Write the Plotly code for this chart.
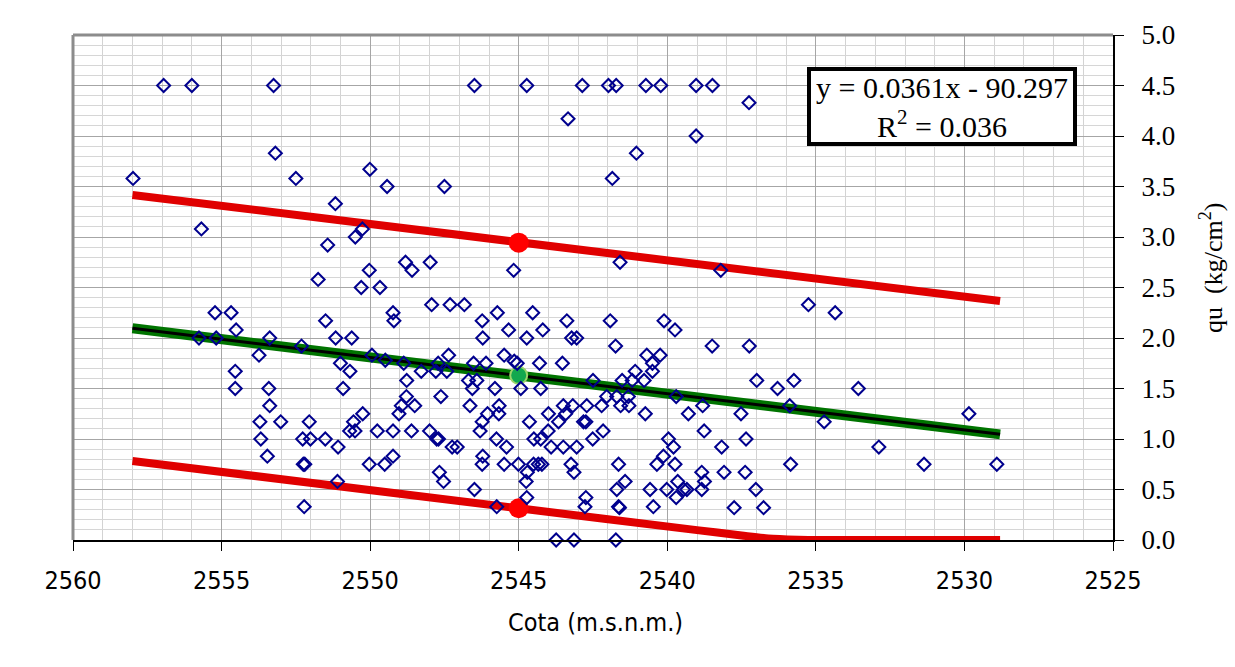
import plotly.graph_objects as go

# ---- data ----
cota = [
    2556.95, 2556.0, 2553.25, 2553.19, 2557.98, 2552.5, 2550.01, 2549.43, 2551.17, 2555.68,
    2550.26, 2550.5, 2551.43, 2548.81, 2548.59, 2550.03, 2551.75, 2550.3, 2549.67,
    2546.49, 2544.73, 2542.86, 2541.98, 2541.72, 2540.72, 2540.22, 2539.03, 2538.48, 2537.25,
    2543.34, 2539.03, 2541.04, 2541.85, 2547.5, 2547.98, 2545.17, 2541.59, 2538.2, 2547.93,
    2547.31, 2546.83,
    2535.25, 2534.35, 2536.29, 2535.74, 2533.57, 2535.88, 2534.72, 2529.85, 2532.88, 2535.85,
    2531.36, 2528.91,
    2555.22, 2554.68, 2554.51, 2555.76, 2555.18, 2553.38, 2553.74, 2552.31, 2551.5, 2551.16,
    2550.62, 2549.23, 2549.2, 2549.94, 2549.49, 2548.87, 2548.28, 2551.0, 2550.68, 2554.54,
    2554.54, 2553.41, 2553.38, 2550.91, 2553.71, 2553.01, 2553.68, 2553.46, 2552.05, 2552.27,
    2552.01, 2551.51, 2551.08, 2552.25, 2552.2, 2551.1, 2552.22, 2550.56, 2550.69, 2550.51,
    2550.25, 2549.76, 2549.23, 2550.03, 2549.51, 2549.23, 2549.03, 2548.95, 2548.78, 2548.77,
    2548.5, 2548.61,
    2545.72, 2544.53, 2546.23, 2545.34, 2546.21, 2544.73, 2544.19, 2543.38, 2541.92, 2543.22,
    2543.05, 2541.74, 2540.11, 2539.74, 2538.49, 2537.24, 2536.99, 2547.36, 2547.71, 2547.79,
    2547.42, 2546.52, 2546.1, 2545.49, 2545.15, 2545.05, 2544.3, 2543.53, 2540.69, 2540.24,
    2540.5, 2541.08, 2540.5, 2541.18, 2540.78, 2541.52, 2542.5, 2546.69, 2546.41, 2546.56,
    2545.8, 2544.93, 2544.26, 2547.62, 2546.64, 2545.66, 2545.67, 2546.05, 2546.23, 2546.3,
    2544.64, 2544.0, 2543.5, 2543.18, 2543.42, 2543.66, 2542.82, 2542.74, 2542.71, 2542.21,
    2542.04, 2541.7, 2541.57, 2541.31, 2541.29, 2540.74, 2539.7, 2539.29, 2538.81, 2537.52,
    2538.76, 2537.35, 2538.17, 2548.0, 2547.76, 2547.7, 2547.24, 2547.07, 2545.75, 2545.41,
    2544.49, 2544.26, 2544.01, 2543.91, 2543.5, 2543.05, 2542.51, 2542.16, 2546.21, 2546.23,
    2545.49, 2545.01, 2544.5, 2544.34, 2544.22, 2544.71, 2544.75, 2544.73, 2543.24, 2543.14,
    2541.64, 2541.42, 2541.7, 2542.74, 2542.77, 2541.64, 2541.61, 2540.47, 2540.58, 2540.02,
    2540.35, 2540.13, 2539.96, 2539.79, 2539.74, 2539.65, 2539.7, 2539.45, 2539.34, 2538.84,
    2538.75, 2538.84, 2538.09, 2537.38, 2537.02, 2537.75, 2536.76, 2547.67, 2547.53, 2546.49,
    2545.74, 2543.74, 2543.14, 2541.73,
]
qu = [
    4.5, 4.5, 4.5, 3.83, 3.58, 3.58, 3.67, 3.5, 3.33, 3.08,
    3.08, 3.0, 2.92, 2.75, 2.67, 2.67, 2.58, 2.5, 2.5,
    4.5, 4.5, 4.5, 4.5, 4.5, 4.5, 4.5, 4.5, 4.5, 4.33,
    4.17, 4.0, 3.83, 3.58, 3.5, 2.75, 2.67, 2.75, 2.67, 2.33,
    2.33, 2.33,
    2.33, 2.25, 1.5, 1.58, 1.5, 1.33, 1.17, 1.25, 0.92, 0.75,
    0.75, 0.75,
    2.25, 2.25, 2.08, 2.0, 2.0, 2.0, 1.83, 1.92, 2.17, 2.0,
    2.0, 2.25, 2.17, 1.83, 1.78, 1.75, 1.67, 1.75, 1.67, 1.67,
    1.5, 1.5, 1.33, 1.5, 1.17, 1.17, 1.0, 0.83, 1.17, 1.0,
    1.0, 1.0, 0.92, 0.75, 0.75, 0.58, 0.33, 1.17, 1.08, 1.08,
    1.25, 1.08, 1.08, 0.75, 0.75, 0.83, 1.25, 1.33, 1.42, 1.58,
    1.33, 1.08,
    2.25, 2.25, 2.17, 2.08, 2.0, 2.0, 2.08, 2.17, 2.17, 2.0,
    2.0, 1.92, 2.17, 2.08, 1.92, 1.92, 1.58, 1.83, 1.75, 1.67,
    1.67, 1.75, 1.75, 1.83, 1.77, 1.75, 1.75, 1.75, 1.83, 1.83,
    1.75, 1.67, 1.67, 1.58, 1.58, 1.58, 1.58, 1.58, 1.58, 1.5,
    1.5, 1.5, 1.5, 1.42, 1.33, 1.33, 1.25, 1.25, 1.17, 1.08,
    1.17, 1.25, 1.33, 1.33, 1.25, 1.17, 1.17, 1.17, 1.33, 1.33,
    1.42, 1.42, 1.33, 1.42, 1.33, 1.25, 1.42, 1.25, 1.33, 1.25,
    1.08, 1.0, 0.92, 1.08, 1.0, 1.0, 0.92, 0.92, 1.0, 0.92,
    1.0, 1.0, 1.08, 0.92, 0.92, 0.92, 1.0, 1.08, 0.83, 0.75,
    0.75, 0.75, 0.75, 0.75, 0.75, 0.67, 0.58, 0.42, 0.75, 0.67,
    0.75, 0.58, 0.5, 0.42, 0.33, 0.33, 0.32, 0.33, 0.5, 0.5,
    0.75, 0.83, 1.0, 0.92, 0.75, 0.58, 0.42, 0.5, 0.5, 0.67,
    0.58, 0.5, 0.67, 0.67, 0.5, 0.32, 0.32, 0.67, 0.58, 0.5,
    0.33, 0.0, 0.0, 0.0,
]

# trend line and bounds
trend_x = [2558.0, 2528.8]
trend_y = [2.096, 1.046]
upper_x = [2558.0, 2528.8]
upper_y = [3.416, 2.366]
lower_x = [2558.0, 2545.0, 2539.0, 2537.5, 2536.6, 2535.6, 2535.0, 2528.8]
lower_y = [0.782, 0.314, 0.098, 0.045, 0.015, 0.003, 0.0, 0.0]
red_pt_x = [2545.0, 2545.0]
red_pt_y = [2.944, 0.314]
green_pt_x = [2545.0]
green_pt_y = [1.63]

eq_text = "y = 0.0361x - 90.297<br>R<sup>2</sup> = 0.036"
x_title = "Cota (m.s.n.m.)"
y_title = "qu\u00a0\u00a0(kg/cm<sup>2</sup>)"
x_ticks = [2560, 2555, 2550, 2545, 2540, 2535, 2530, 2525]
y_ticks = [0, 0.5, 1, 1.5, 2, 2.5, 3, 3.5, 4, 4.5, 5]

W, H = 1235, 667
L, R, T, B = 73, 1113, 35, 540

fig = go.Figure()
fig.add_trace(go.Scatter(x=upper_x, y=upper_y, mode="lines",
                         line=dict(color="#E00000", width=8), hoverinfo="skip"))
fig.add_trace(go.Scatter(x=lower_x, y=lower_y, mode="lines",
                         line=dict(color="#E00000", width=8, shape="spline", smoothing=0.6),
                         hoverinfo="skip", cliponaxis=False))
fig.add_trace(go.Scatter(x=trend_x, y=trend_y, mode="lines",
                         line=dict(color="#007400", width=10), hoverinfo="skip"))
fig.add_trace(go.Scatter(x=trend_x, y=trend_y, mode="lines",
                         line=dict(color="#000000", width=3), hoverinfo="skip"))
fig.add_trace(go.Scatter(x=red_pt_x, y=red_pt_y, mode="markers",
                         marker=dict(color="#FF0000", size=20, line=dict(width=0))))
fig.add_trace(go.Scatter(x=green_pt_x, y=green_pt_y, mode="markers",
                         marker=dict(color="#12A84E", size=17, line=dict(color="#9BD56A", width=2))))
fig.add_trace(go.Scatter(x=cota, y=qu, mode="markers", cliponaxis=False,
                         marker=dict(symbol="diamond-open", size=10, color="#00008E",
                                     line=dict(width=2, color="#00008E"))))

fig.update_layout(
    width=W, height=H,
    margin=dict(l=L, r=W - R, t=T, b=H - B, pad=0),
    paper_bgcolor="white", plot_bgcolor="white",
    showlegend=False,
    xaxis=dict(
        range=[2560, 2525], tickvals=x_ticks, ticktext=[str(v) for v in x_ticks],
        showgrid=True, gridcolor="#A6A6A6", gridwidth=1,
        minor=dict(dtick=1, tick0=2525, showgrid=True, gridcolor="#D3D3D3", gridwidth=1),
        ticks="outside", ticklen=9, tickwidth=1, tickcolor="#000000",
        showline=True, linecolor="#000000", linewidth=2,
        zeroline=False, ticklabelstandoff=8,
        tickfont=dict(family="DejaVu Sans Condensed, Liberation Sans Narrow, sans-serif",
                      size=25, color="#000000"),
    ),
    yaxis=dict(
        range=[0, 5], tickvals=y_ticks, tickformat=".1f", side="right",
        showgrid=True, gridcolor="#A6A6A6", gridwidth=1,
        minor=dict(dtick=0.1, showgrid=True, gridcolor="#D6D6D6", gridwidth=1),
        ticks="outside", ticklen=9, tickwidth=1, tickcolor="#000000",
        showline=True, linecolor="#000000", linewidth=2, mirror=False,
        zeroline=False, ticklabelstandoff=12,
        tickfont=dict(family="Liberation Serif, serif", size=27, color="#000000"),
    ),
    shapes=[
        dict(type="line", xref="paper", yref="paper", x0=0, x1=1, y0=1, y1=1,
             line=dict(color="#8C8C8C", width=3)),
        dict(type="line", xref="paper", yref="paper", x0=0, x1=0, y0=0, y1=1,
             line=dict(color="#8C8C8C", width=3)),
    ],
    annotations=[
        dict(text=eq_text, xref="paper", yref="paper",
             x=(942 - L) / (R - L), y=(B - 106.5) / (B - T), xanchor="center", yanchor="middle",
             showarrow=False, align="center", width=262, height=71,
             bgcolor="white", bordercolor="#000000", borderwidth=4, borderpad=0,
             font=dict(family="Liberation Serif, serif", size=30, color="#000000")),
        dict(text=x_title, xref="paper", yref="paper",
             x=(595 - L) / (R - L), y=(B - 622) / (B - T), xanchor="center", yanchor="middle",
             showarrow=False,
             font=dict(family="DejaVu Sans Condensed, Liberation Sans Narrow, sans-serif",
                       size=25, color="#000000")),
        dict(text=y_title, xref="paper", yref="paper", textangle=-90,
             x=(1211 - L) / (R - L), y=(B - 268) / (B - T), xanchor="center", yanchor="middle",
             showarrow=False,
             font=dict(family="Liberation Serif, serif", size=26, color="#000000")),
    ],
)

fig.write_html("out.html")
